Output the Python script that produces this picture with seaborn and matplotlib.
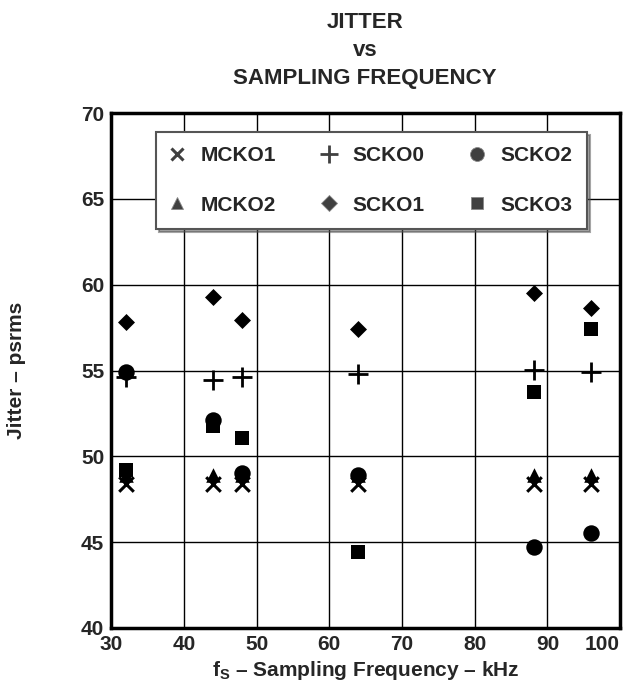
import matplotlib
matplotlib.use("Agg")
import matplotlib.pyplot as plt
from matplotlib.lines import Line2D
import seaborn as sns
import pandas as pd

# sampling frequencies (kHz)
freq = [32, 44, 48, 64, 88.2, 96]

# jitter values (psrms) per clock output
mcko1 = [48.4, 48.4, 48.4, 48.4, 48.4, 48.4]
mcko2 = [48.9, 48.9, 48.9, 48.9, 48.9, 48.9]
scko0 = [54.6, 54.45, 54.65, 54.8, 55.05, 54.9]
scko1 = [57.8, 59.3, 57.95, 57.4, 59.5, 58.65]
scko2 = [54.9, 52.1, 49.0, 48.9, 44.7, 45.55]
scko3 = [49.2, 51.75, 51.05, 44.4, 53.75, 57.4]

series_names = ["MCKO1", "MCKO2", "SCKO0", "SCKO1", "SCKO2", "SCKO3"]
series_vals = [mcko1, mcko2, scko0, scko1, scko2, scko3]

x_ticks = [30, 40, 50, 60, 70, 80, 90, 100]
y_ticks = [40, 45, 50, 55, 60, 65, 70]

# marker, plot size, linewidth, legend size
styles = {
    "MCKO1": ("x", 110, 2.2, 8),
    "MCKO2": ("^", 110, 0, 9),
    "SCKO0": ("+", 200, 2.0, 13),
    "SCKO1": ("D", 75, 0, 8.5),
    "SCKO2": ("o", 140, 0, 10),
    "SCKO3": ("s", 110, 0, 8),
}

rows = []
for name, vals in zip(series_names, series_vals):
    for f, v in zip(freq, vals):
        rows.append({"freq": f, "jitter": v, "series": name})
df = pd.DataFrame(rows)

sns.set_style("white")
plt.rcParams["font.family"] = ["Liberation Sans", "DejaVu Sans"]
plt.rcParams["font.weight"] = "bold"
plt.rcParams["mathtext.fontset"] = "custom"
plt.rcParams["mathtext.rm"] = "Liberation Sans:bold"
plt.rcParams["mathtext.bf"] = "Liberation Sans:bold"

fig = plt.figure(figsize=(6.36, 6.9), dpi=100)
ax = fig.add_axes([0.175, 0.09, 0.80, 0.746])

for name in series_names:
    m, s, lw, _ = styles[name]
    sub = df[df["series"] == name]
    sns.scatterplot(data=sub, x="freq", y="jitter", marker=m, s=s,
                    color="black", edgecolor="black" if lw == 0 else None,
                    linewidth=lw, ax=ax, legend=False, zorder=3)

ax.set_xlim(30, 100)
ax.set_ylim(40, 70)
ax.set_xticks(x_ticks)
ax.set_yticks(y_ticks)
ax.tick_params(length=0, labelsize=15, pad=5)
for lab in ax.get_xticklabels() + ax.get_yticklabels():
    lab.set_fontweight("bold")
# the last label sits flush with the right edge, as in the original
ax.get_xticklabels()[-1].set_horizontalalignment("right")
ax.grid(True, color="black", linewidth=1.0)
ax.set_axisbelow(True)
for sp in ax.spines.values():
    sp.set_color("black")
    sp.set_linewidth(2.5)

ax.set_xlabel(r"f$_\mathregular{S}$ – Sampling Frequency – kHz",
              fontsize=15, fontweight="bold", labelpad=4)
ax.set_ylabel("Jitter – psrms", fontsize=15, fontweight="bold", labelpad=40)

fig.text(0.574, 0.982, "JITTER\nvs\nSAMPLING FREQUENCY", ha="center", va="top",
         fontsize=16, fontweight="bold", linespacing=1.42)

# legend, row-wise order MCKO1 SCKO0 SCKO2 / MCKO2 SCKO1 SCKO3
handles = []
for name in series_names:
    m, s, lw, ms = styles[name]
    handles.append(Line2D([], [], linestyle="none", marker=m, markersize=ms,
                          color="#404040",
                          markeredgecolor="#404040" if lw else "#888888",
                          markeredgewidth=lw if lw else 0.6))
leg = ax.legend(handles, series_names, ncol=3, loc="upper left",
                bbox_to_anchor=(0.088, 0.779, 0.847, 0.184), mode="expand",
                borderaxespad=0, frameon=True, fancybox=False, shadow=True,
                prop={"weight": "bold", "size": 15}, handlelength=0.65,
                handletextpad=0.8, labelspacing=1.45, borderpad=0.68)
leg.get_frame().set_edgecolor("#555555")
leg.get_frame().set_linewidth(1.5)
leg.set_zorder(5)

fig.savefig("out.png", dpi=100, facecolor="white")
